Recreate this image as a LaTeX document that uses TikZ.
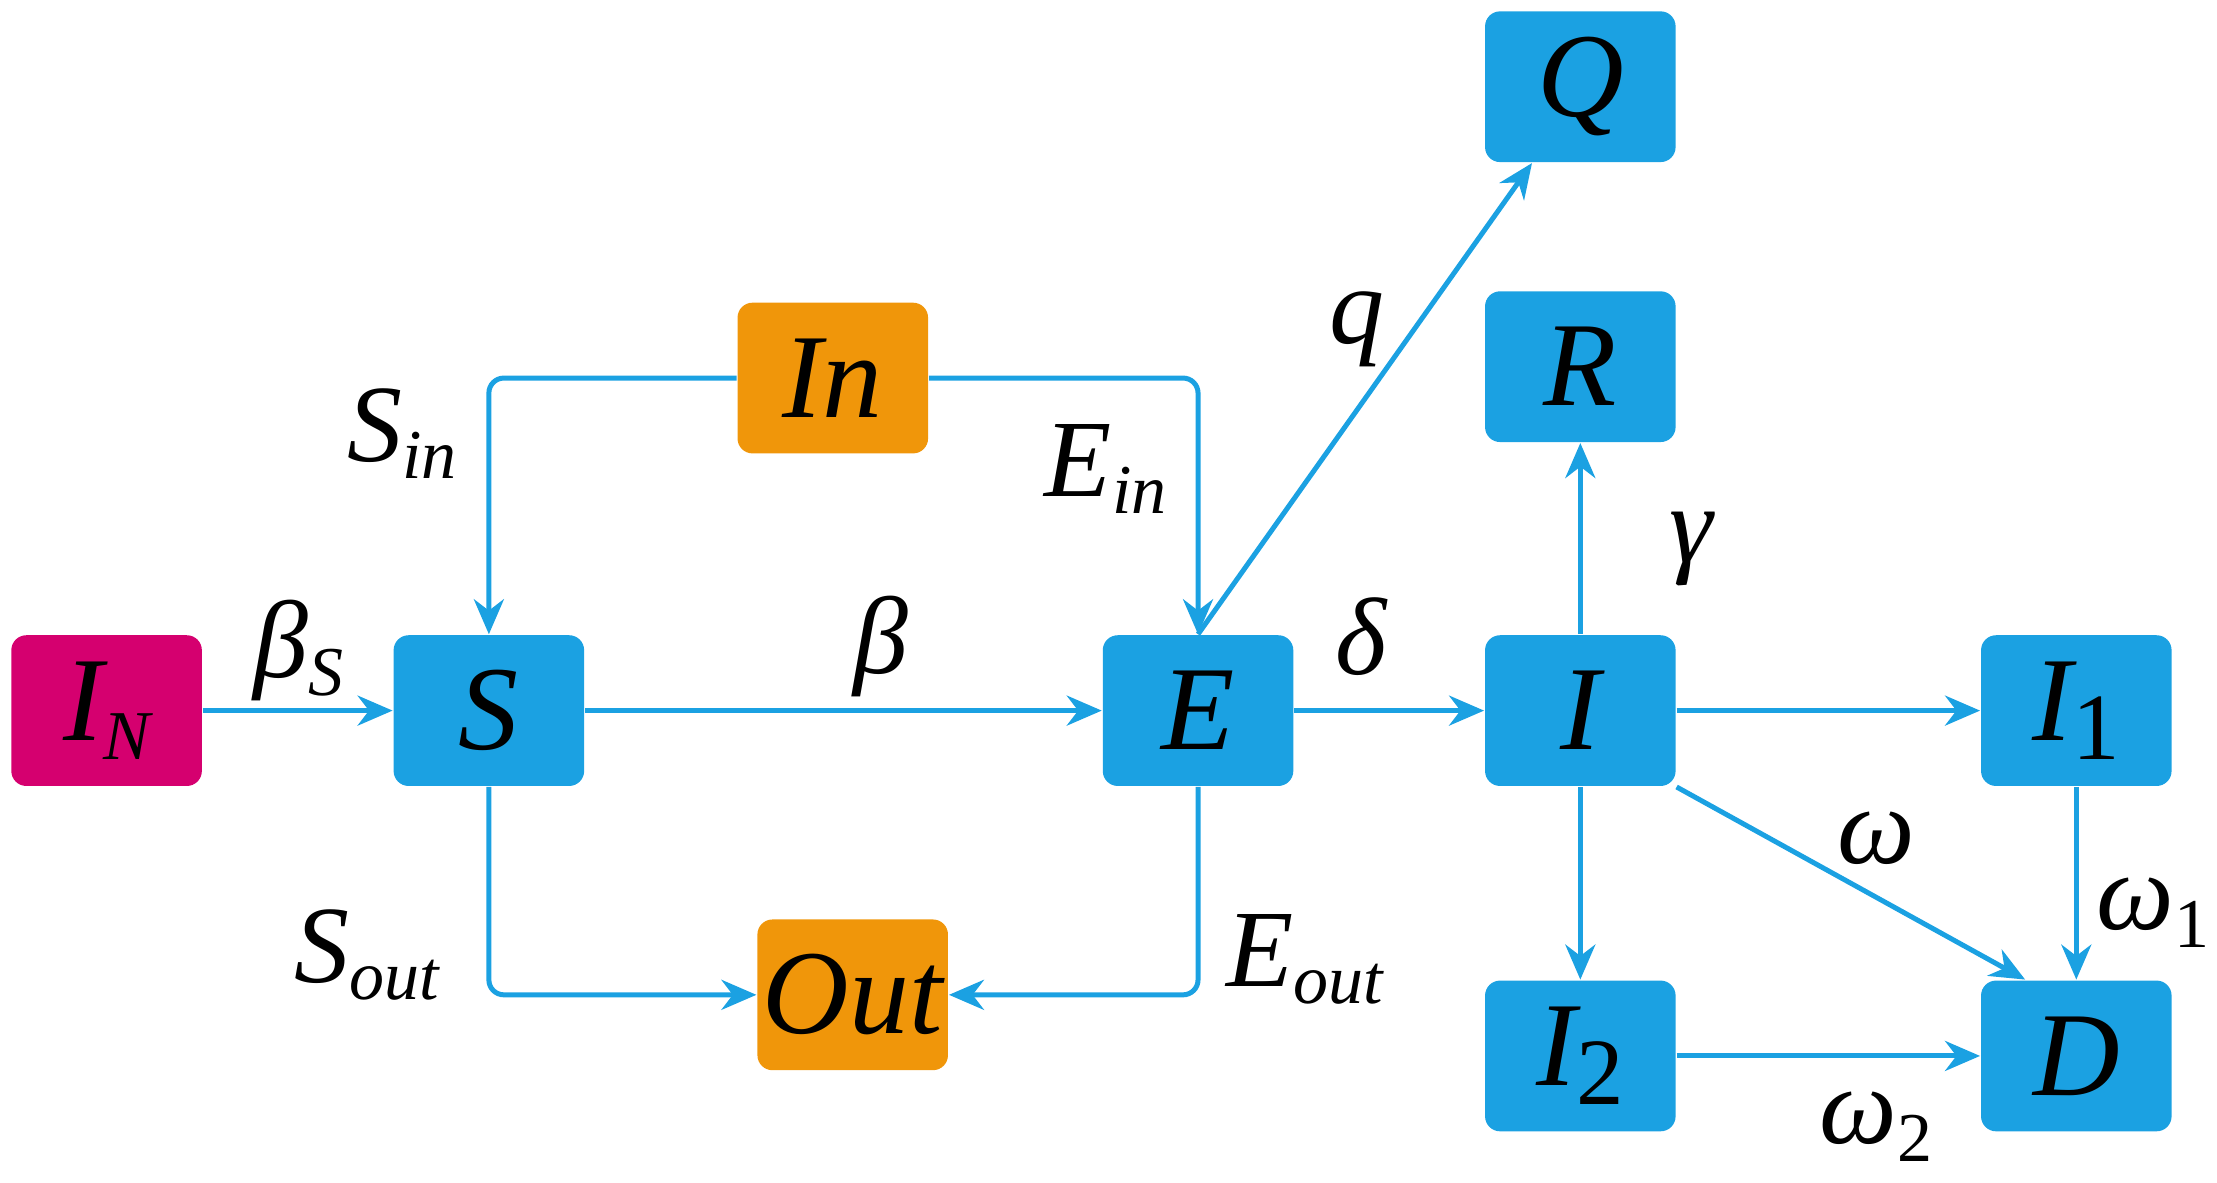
\documentclass[tikz,border=0pt]{standalone}
\usepackage{fontspec}
\setmainfont{Liberation Serif}
\usetikzlibrary{arrows.meta}
\definecolor{bl}{HTML}{1BA1E2}
\definecolor{mg}{HTML}{D5006F}
\definecolor{og}{HTML}{F0960A}
\newcommand{\sbs}[1]{\raisebox{-0.35ex}{\fontsize{14}{16}\selectfont #1}}
\begin{document}
\begin{tikzpicture}[x=0.01cm,y=-0.01cm,
 box/.style={rectangle,rounded corners=3pt,minimum width=1.34cm,minimum height=1.06cm,inner sep=0pt,font=\fontsize{24}{28}\selectfont\itshape},
 ar/.style={draw=bl,line width=1pt,-{Stealth[length=7pt,width=6pt]},rounded corners=3pt},
 lb/.style={font=\fontsize{22}{26}\selectfont\itshape}]
\useasboundingbox (0,0) rectangle (1560,832);
\node[box,fill=mg] (IN) at (75,500) {I\sbs{N}};
\node[box,fill=bl] (S) at (344,500) {S};
\node[box,fill=bl] (E) at (843,500) {E};
\node[box,fill=bl] (I) at (1112,500) {I};
\node[box,fill=bl] (I1) at (1461,500) {I\sbs{\upshape\fontsize{19}{21}\selectfont 1}};
\node[box,fill=og] (In) at (586,266) {In};
\node[box,fill=og] (Out) at (600,700) {Out};
\node[box,fill=bl] (Q) at (1112,61) {Q};
\node[box,fill=bl] (R) at (1112,258) {R};
\node[box,fill=bl] (I2) at (1112,743) {I\sbs{\upshape\fontsize{19}{21}\selectfont 2}};
\node[box,fill=bl] (D) at (1461,743) {D};
\draw[ar] (IN) -- (S);
\draw[ar] (S) -- (E);
\draw[ar] (E) -- (I);
\draw[ar] (I) -- (I1);
\draw[ar] (I) -- (R);
\draw[ar] (I) -- (I2);
\draw[ar] (I.south east) -- (D.north west -| 1425,0);
\draw[ar] (I1) -- (D);
\draw[ar] (I2) -- (D);
\draw[ar] (E.north) -- (Q.south west -| 1078,0);
\draw[ar] (In.west) -| (S.north);
\draw[ar] (In.east) -| (E.north);
\draw[ar] (S.south) |- (Out.west);
\draw[ar] (E.south) |- (Out.east);
\node[lb] (l1) at (210,458) {β\sbs{S}};
\node[lb] (l2) at (620,455) {β};
\node[lb] (l3) at (958,448) {δ};
\node[lb] (l4) at (955,232) {q};
\node[lb] (l5) at (283,305) {S\sbs{in}};
\node[lb] (l6) at (778,330) {E\sbs{in}};
\node[lb] (l7) at (258,672) {S\sbs{out}};
\node[lb] (l8) at (918,675) {E\sbs{out}};
\node[lb] (l9) at (1190,386) {γ};
\node[lb] (l10) at (1320,590) {ω};
\node[lb,anchor=east,inner sep=1pt] (l11) at (1559,642) {ω\sbs{\upshape 1}};
\node[lb] (l12) at (1320,793) {ω\sbs{\upshape 2}};
\end{tikzpicture}
\end{document}
